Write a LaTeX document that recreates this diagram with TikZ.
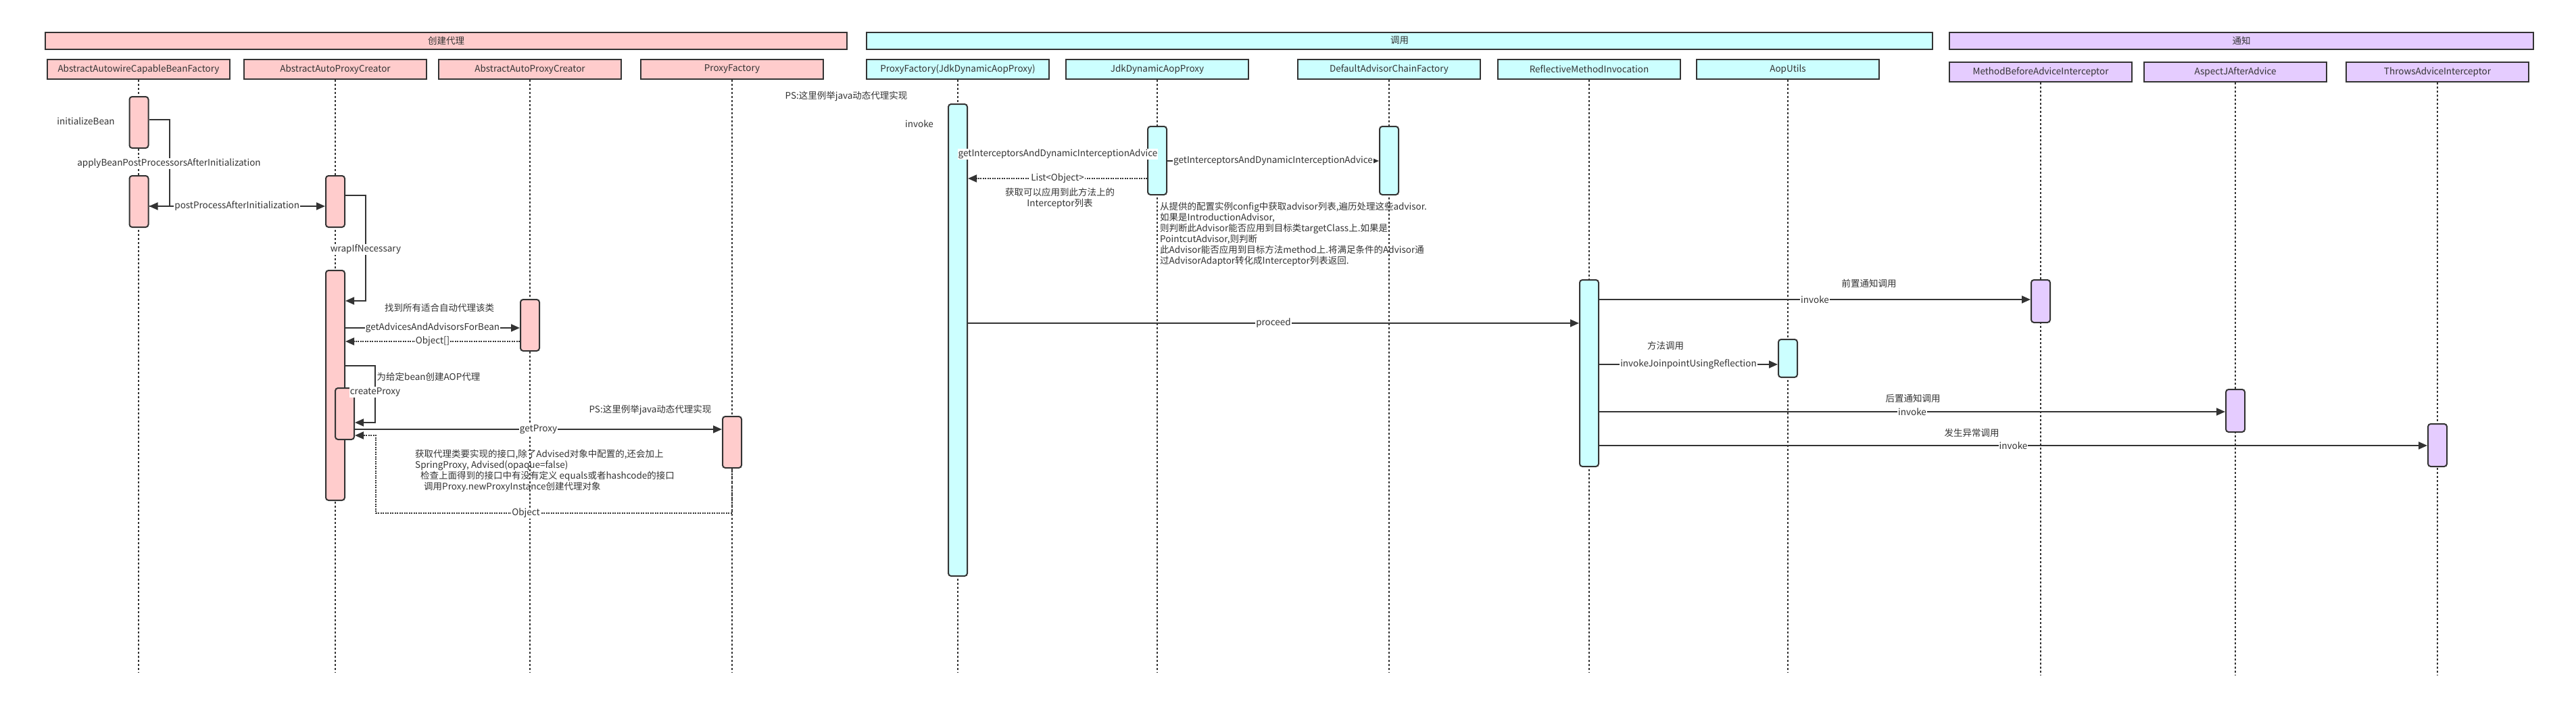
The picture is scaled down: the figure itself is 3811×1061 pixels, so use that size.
\documentclass[tikz,border=0pt]{standalone}
\usepackage{fontspec}
\setmainfont{Noto Sans CJK SC}
\usetikzlibrary{arrows.meta}

\begin{document}
\begin{tikzpicture}[x=1pt,y=-1pt,font=\fontsize{13.5}{16}\selectfont,
	grp/.style={draw=seqLine,line width=2pt,minimum height=25pt,inner sep=0pt,text=seqText},
	hdr/.style={draw=seqLine,line width=2pt,minimum width=270pt,minimum height=29pt,inner sep=0pt,text=seqText},
	act/.style={draw=seqLine,line width=2pt,rounded corners=4pt,minimum width=28pt,inner sep=0pt},
	life/.style={draw=seqLine,line width=1.2pt,dash pattern=on 3pt off 3pt},
	msg/.style={draw=seqLine,line width=2pt,-{Triangle[length=13pt,width=11pt]}},
	ret/.style={msg,dash pattern=on 2pt off 1.5pt},
	lbl/.style={fill=white,inner sep=1pt,text=seqText},
	note/.style={inner sep=0pt,align=left,text=seqText}]
\definecolor{seqLine}{HTML}{333333}
\definecolor{seqText}{HTML}{333333}
\definecolor{seqPink}{HTML}{FFCCCC}
\definecolor{seqCyan}{HTML}{CCFFFF}
\definecolor{seqPurple}{HTML}{E5CCFF}
\useasboundingbox (0,0) rectangle (3811,1061);

\node[grp,fill=seqPink,minimum width=1186pt] (gCreate) at (660,60) {创建代理};
\node[grp,fill=seqCyan,minimum width=1577pt] (gInvoke) at (2070.5,60) {调用};
\node[grp,fill=seqPurple,minimum width=864pt] (gAdvice) at (3316,60) {通知};

\foreach \nm/\xx/\yy/\yend/\lab/\col in {
	hBeanFactory/205/102.5/995/AbstractAutowireCapableBeanFactory/seqPink,
	hAutoProxyA/496/102.5/995/AbstractAutoProxyCreator/seqPink,
	hAutoProxyB/784/102.5/995/AbstractAutoProxyCreator/seqPink,
	hProxyFactory/1083/102.5/995/ProxyFactory/seqPink,
	hJdkFactory/1417/102.5/995/ProxyFactory(JdkDynamicAopProxy)/seqCyan,
	hJdkProxy/1712/102.5/995/JdkDynamicAopProxy/seqCyan,
	hChain/2055/102.5/995/DefaultAdvisorChainFactory/seqCyan,
	hReflective/2351/102.5/995/ReflectiveMethodInvocation/seqCyan,
	hAopUtils/2645/102.5/995/AopUtils/seqCyan,
	hBefore/3019/106.5/999/MethodBeforeAdviceInterceptor/seqPurple,
	hAfter/3307/106.5/999/AspectJAfterAdvice/seqPurple,
	hThrows/3606/106.5/999/ThrowsAdviceInterceptor/seqPurple} {
	\node[hdr,fill=\col] (\nm) at (\xx,\yy) {\lab};
	\draw[life] (\nm.south) -- (\nm.south |- 0,\yend);
}

\node[act,fill=seqPink,minimum height=76pt] (a1) at (205.5,181) {};
\node[act,fill=seqPink,minimum height=76pt] (a2) at (205.5,298) {};
\node[act,fill=seqPink,minimum height=76pt] (a3) at (496,298) {};
\node[act,fill=seqPink,minimum height=340pt] (a4) at (496,570) {};
\node[act,fill=seqPink,minimum height=76pt] (a5) at (784,481) {};
\node[act,fill=seqPink,minimum height=76pt] (a6) at (510,612) {};
\node[act,fill=seqPink,minimum height=76pt] (a7) at (1083,654) {};
\node[act,fill=seqCyan,minimum height=698pt] (b1) at (1417,503) {};
\node[act,fill=seqCyan,minimum height=101pt] (b2) at (1712,237.5) {};
\node[act,fill=seqCyan,minimum height=101pt] (b3) at (2055,237.5) {};
\node[act,fill=seqCyan,minimum height=276pt] (b4) at (2351,552) {};
\node[act,fill=seqCyan,minimum height=56pt] (b5) at (2645,530) {};
\node[act,fill=seqPurple,minimum height=63pt] (c1) at (3019,445.5) {};
\node[act,fill=seqPurple,minimum height=63pt] (c2) at (3307,607.5) {};
\node[act,fill=seqPurple,minimum height=63pt] (c3) at (3606,658.5) {};

\node[note] (nInit) at (127,179) {initializeBean};
\draw[msg] (a1.east |- 0,177) -- ++(30,0) |- (a2.east |- 0,305);
\node[lbl] (lApply) at (250,242) {applyBeanPostProcessorsAfterInitialization};
\draw[msg] (a2.east |- 0,305) -- (a3.west |- 0,305) node[lbl,midway] (lPost) {postProcessAfterInitialization};
\draw[msg] (a3.east |- 0,289) -- ++(30,0) |- (a4.east |- 0,445);
\node[lbl] (lWrap) at (541,369) {wrapIfNecessary};
\node[note] (nFind) at (650,455) {找到所有适合自动代理该类};
\draw[msg] (a4.east |- 0,485) -- (a5.west |- 0,485) node[lbl,midway] (lAdvices) {getAdvicesAndAdvisorsForBean};
\draw[ret] (a5.west |- 0,505) -- (a4.east |- 0,505) node[lbl,midway] (lObjArr) {Object[]};
\draw[msg] (a4.east |- 0,541) -- ++(44,0) |- (a6.east |- 0,625);
\node[lbl] (lCreate) at (555,580) {createProxy};
\node[note] (nAop) at (634,557) {为给定bean创建AOP代理};
\draw[msg] (a6.east |- 0,635) -- (a7.west |- 0,635) node[lbl,midway] (lGetProxy) {getProxy};
\node[note] (nPsA) at (962,606) {PS:这里例举java动态代理实现};
\coordinate (objTurn) at (556,759);
\draw[ret] (a7.south) |- (objTurn) |- (a6.east |- 0,644);
\node[lbl] (lObject) at (778,759) {Object};
\node[note,anchor=north west] (nIface) at (614,665) {获取代理类要实现的接口,除了Advised对象中配置的,还会加上\\
SpringProxy, Advised(opaque=false)\\
\hspace*{8pt}检查上面得到的接口中有没有定义 equals或者hashcode的接口\\
\hspace*{13pt}调用Proxy.newProxyInstance创建代理对象};

\node[note] (nPsB) at (1252,142) {PS:这里例举java动态代理实现};
\node[note] (nInvoke) at (1360,183) {invoke};
\draw[msg] (b1.east |- 0,228) -- (b2.west |- 0,228);
\node[lbl] (lChainA) at (1565,228) {getInterceptorsAndDynamicInterceptionAdvice};
\draw[msg] (b2.east |- 0,238) -- (b3.west |- 0,238) node[lbl,midway] (lChainB) {getInterceptorsAndDynamicInterceptionAdvice};
\draw[ret] (b2.west |- 0,264) -- (b1.east |- 0,264) node[lbl,midway] (lList) {List<Object>};
\node[note,align=center] (nList) at (1568,293) {获取可以应用到此方法上的\\Interceptor列表};
\node[note,anchor=north west] (nChain) at (1716,299) {从提供的配置实例config中获取advisor列表,遍历处理这些advisor.\\
如果是IntroductionAdvisor,\\
则判断此Advisor能否应用到目标类targetClass上.如果是\\
PointcutAdvisor,则判断\\
此Advisor能否应用到目标方法method上.将满足条件的Advisor通\\
过AdvisorAdaptor转化成Interceptor列表返回.};
\draw[msg] (b1.east |- 0,478) -- (b4.west |- 0,478) node[lbl,midway] (lProceed) {proceed};

\node[note] (nBefore) at (2765,419) {前置通知调用};
\draw[msg] (b4.east |- 0,443) -- (c1.west |- 0,443) node[lbl,midway] (lInvA) {invoke};
\node[note] (nMethod) at (2464,511) {方法调用};
\draw[msg] (b4.east |- 0,539) -- (b5.west |- 0,539) node[lbl,midway] (lJoin) {invokeJoinpointUsingReflection};
\node[note] (nAfter) at (2830,589) {后置通知调用};
\draw[msg] (b4.east |- 0,609) -- (c2.west |- 0,609) node[lbl,midway] (lInvB) {invoke};
\node[note] (nThrow) at (2917,640) {发生异常调用};
\draw[msg] (b4.east |- 0,659) -- (c3.west |- 0,659) node[lbl,midway] (lInvC) {invoke};
\end{tikzpicture}
\end{document}
